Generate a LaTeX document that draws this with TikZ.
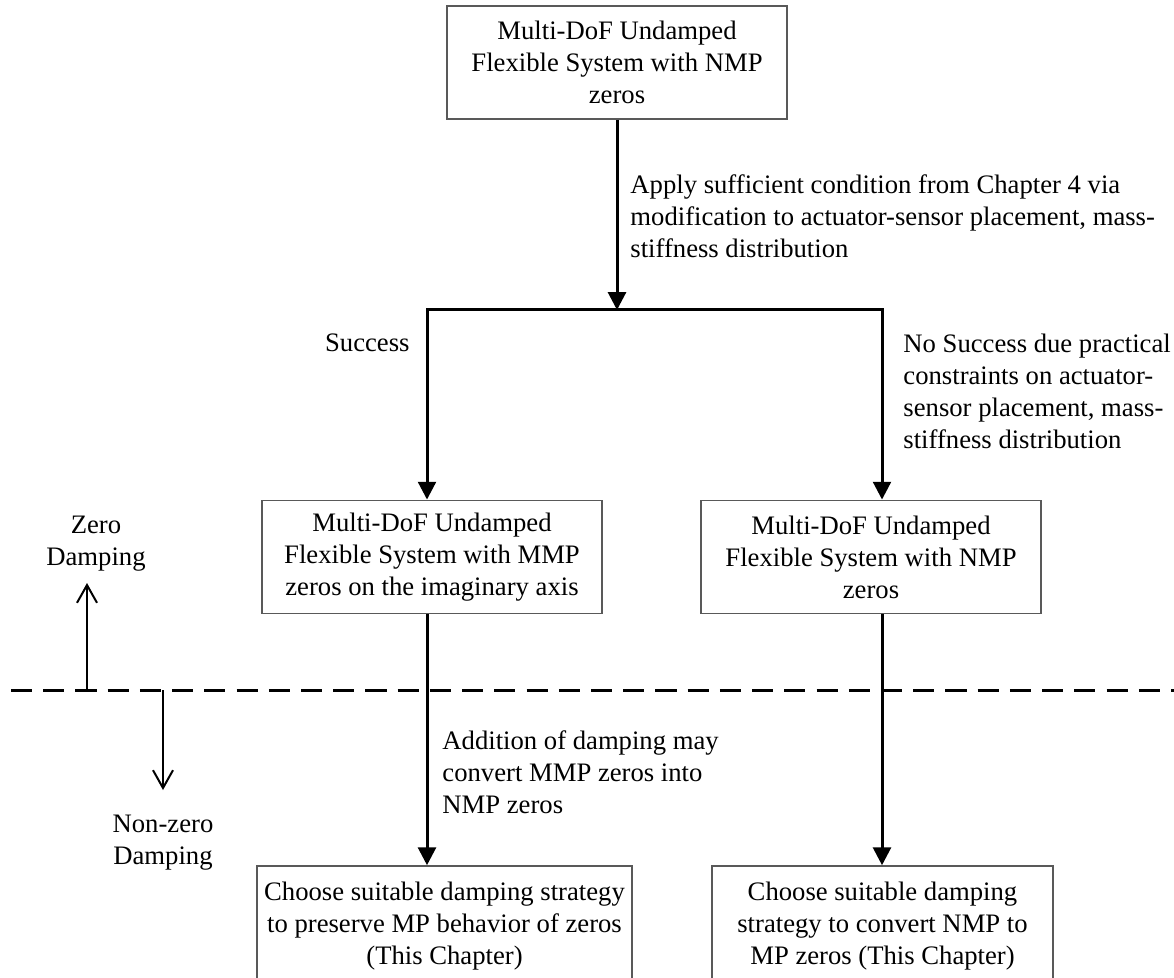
\documentclass[tikz,border=0pt]{standalone}
\usepackage{fontspec}
\setmainfont{Liberation Serif}
\usetikzlibrary{arrows.meta}

\tikzset{
  block/.style={draw=black!65, line width=0.7pt, align=center, inner sep=0pt,
    minimum width=153pt, minimum height=51pt},
  flow/.style={line width=1.35pt, -{Triangle[length=8pt,width=8pt]}},
  note/.style={align=left, inner sep=0pt},
  level/.style={line width=0.9pt, -{Straight Barb[length=8pt,width=9pt]}}
}

\begin{document}
\begin{tikzpicture}[x=0.45pt, y=-0.45pt, font=\fontsize{12pt}{14.4pt}\selectfont]
\useasboundingbox (0,0) rectangle (1174,978);
\clip (0,0) rectangle (1174,978);

% boxes
\node[block] (top)  at (617,62.5) {Multi-DoF Undamped\\Flexible System with NMP\\zeros};
\node[block] (midL) at (432,557) {Multi-DoF Undamped\\Flexible System with MMP\\zeros on the imaginary axis};
\node[block] (midR) at (871,557) {Multi-DoF Undamped\\Flexible System with NMP\\zeros};
\node[block, minimum width=168.75pt, minimum height=54pt] (botL) at (444.5,926)
  {Choose suitable damping strategy\\to preserve MP behavior of zeros\\(This Chapter)};
\node[block, minimum width=153.5pt, minimum height=54pt] (botR) at (882.5,926)
  {Choose suitable damping\\strategy to convert NMP to\\MP zeros (This Chapter)};
%

\coordinate (split)  at (617,310); % branch point
\coordinate (splitL) at (427,310);
\coordinate (splitR) at (882,310);

% branches
\draw[flow] (top.south) -- (split);
\draw[line width=1.35pt, {Triangle[length=8pt,width=8pt]}-{Triangle[length=8pt,width=8pt]}]
  (midL.north -| splitL) -- (splitL) -- (splitR) -- (midR.north -| splitR);
\draw[flow] (midL.south -| splitL) -- (botL.north -| splitL);
\draw[flow] (midR.south -| splitR) -- (botR.north -| splitR);

% labels on the branches
\node[note, anchor=west] (apply) at (630,216) {Apply sufficient condition from Chapter 4 via\\modification to actuator-sensor placement, mass-\\stiffness distribution};
\node[note, anchor=east] (success) at (410,343) {Success};
\node[note, anchor=west] (fail) at (903,391) {No Success due practical\\constraints on actuator-\\sensor placement, mass-\\stiffness distribution};
\node[note, anchor=west] (addition) at (442,772) {Addition of damping may\\convert MMP zeros into\\NMP zeros};

% damping level
\coordinate (dashL) at (11,690);
\coordinate (dashR) at (1180,690);
\draw[line width=1.35pt, dash pattern=on 9.5pt off 5pt] (dashL) -- (dashR);

\coordinate (upfoot)   at (87,690);
\coordinate (downfoot) at (163,690);
\draw[level] (upfoot) -- ++(0,-107);
\draw[level] (downfoot) -- ++(0,100);

\node[align=center, inner sep=0pt] (zero) at (96,544) {Zero\\Damping};
\node[align=center, inner sep=0pt] (nonzero) at (163,843) {Non-zero\\Damping};
\end{tikzpicture}
\end{document}
